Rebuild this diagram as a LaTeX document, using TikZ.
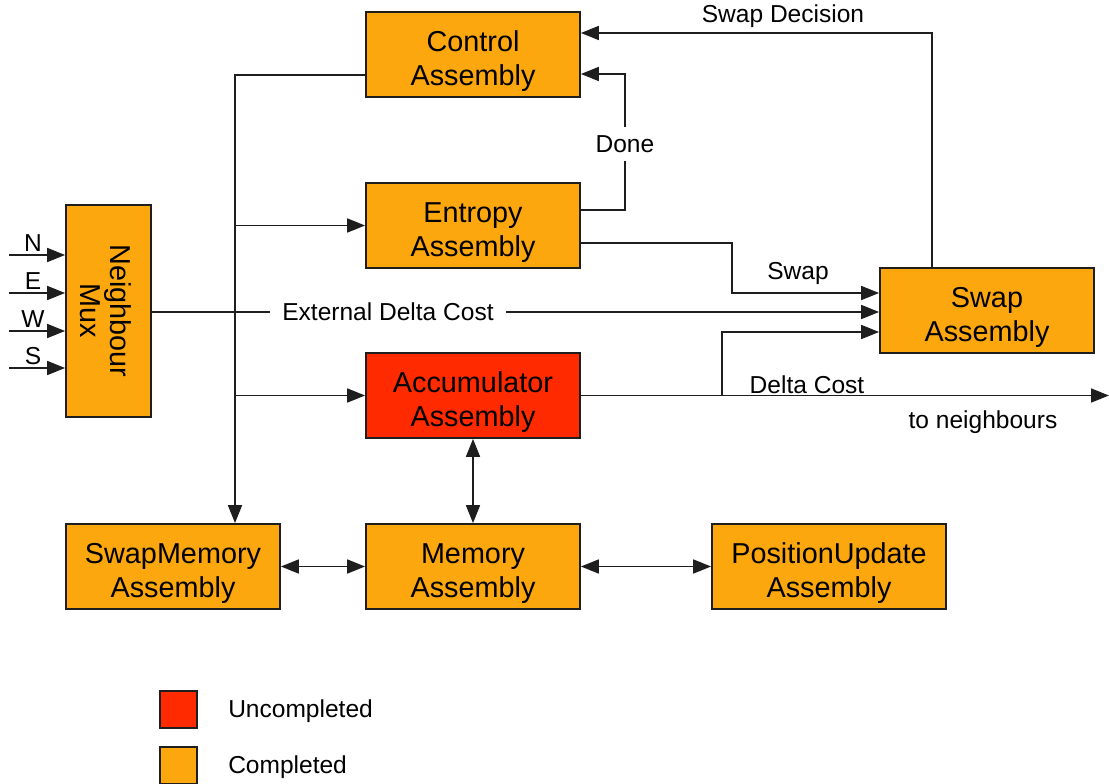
\documentclass[tikz,border=0pt]{standalone}
\usepackage{fontspec}
\setmainfont{Liberation Sans}
\usetikzlibrary{arrows.meta,calc}
\definecolor{donefill}{RGB}{253,167,15}
\definecolor{todofill}{RGB}{255,42,0}
\definecolor{edge}{RGB}{30,30,30}
% taller first line so the two text lines sit a little lower in the blocks
\newcommand{\hstrut}{\rule{0pt}{26pt}}
\tikzset{
  block/.style={draw=edge, line width=1.3pt, fill=donefill, minimum width=160.5pt,
    minimum height=63.75pt, align=center, inner sep=0pt,
    font=\fontsize{21.6}{25.5}\selectfont},
  todo/.style={block, fill=todofill},
  lbl/.style={font=\fontsize{18.4}{22}\selectfont, inner sep=0pt},
  wire/.style={draw=edge, line width=1.2pt},
  arr/.style={wire, -{Triangle[length=13.5pt,width=10.5pt]}},
  dbl/.style={wire, {Triangle[length=13.5pt,width=10.5pt]}-{Triangle[length=13.5pt,width=10.5pt]}},
  keybox/.style={draw=edge, line width=1.3pt, minimum size=27.75pt, inner sep=0pt}
}
\begin{document}
\begin{tikzpicture}[x=0.75pt, y=-0.75pt]
\useasboundingbox (0,0) rectangle (1109,784);

% functional blocks
\node[block] (ctrl) at (473,54.5) {\hstrut Control\\Assembly};
\node[block] (ent)  at (473,225.5) {\hstrut Entropy\\Assembly};
\node[todo]  (acc)  at (473,395.5) {\hstrut Accumulator\\Assembly};
\node[block] (swap) at (987,310.5) {\hstrut Swap\\Assembly};
\node[draw=edge, line width=1.3pt, fill=donefill, minimum width=63.75pt, minimum height=159pt] (mux) at (108.5,311) {};
\node[rotate=-90, align=center, font=\fontsize{21.6}{22.5}\selectfont] (muxtxt) at ($(mux.center)+(-3,0)$) {Neighbour\\Mux};
\node[block] (smem) at (173,566.5) {\hstrut SwapMemory\\Assembly};
\node[block] (mem)  at (473,566.5) {\hstrut Memory\\Assembly};
\node[block, minimum width=175.5pt] (pu) at (829,566.5) {\hstrut PositionUpdate\\Assembly};

% control bus from the control block
\coordinate (bus) at (235,0);
\draw[arr] ($(ctrl.west)+(0,20.5)$) -| (bus |- smem.north);
\draw[arr] (bus |- ent.west) -- (ent.west);
\draw[arr] (bus |- acc.west) -- (acc.west);

% done signal
\coordinate (dn) at ($(ent.east)+(44,-15.5)$);
\draw[arr] ($(ent.east)+(0,-15.5)$) -- (dn) |- node[pos=0.25, lbl, fill=white, inner ysep=6pt, yshift=-1.5pt] (ldone) {Done} ($(ctrl.east)+(0,19.5)$);

% swap decision
\draw[arr] ($(swap.north)+(-55,0)$) |- ($(ctrl.east)+(0,-21.5)$);
\node[lbl] (lsd) at (783,16.5) {Swap Decision};

% swap signal
\coordinate (sw) at ($(ent.east)+(151,17.5)$);
\draw[arr] ($(ent.east)+(0,17.5)$) -- (sw) |- ($(swap.west)+(0,-17.5)$);
\node[lbl] (lswap) at (798,273.5) {Swap};

% external delta cost
\node[lbl, inner xsep=9pt] (lext) at (388,312) {External Delta Cost};
\draw[wire] (mux.east |- lext.west) -- (lext.west);
\draw[arr] (lext.east) -- (lext.east -| swap.west);

% delta cost
\coordinate (out) at (1109,395.5);
\coordinate (dc) at (722,395.5);
\draw[arr] (acc.east) -- (out);
\draw[arr] (dc) |- ($(swap.west)+(0,21.5)$);
\node[lbl] (ldc) at (807,384.5) {Delta Cost};
\node[lbl] (lnb) at (983,422.5) {to neighbours};

% memory links
\draw[dbl] (acc.south) -- (mem.north);
\draw[dbl] (smem.east) -- (mem.west);
\draw[dbl] (mem.east) -- (pu.west);

% neighbour inputs
\foreach \n/\y in {N/255, E/293, W/331, S/368} {
  \coordinate (in\n) at (9,\y);
  \draw[arr] (in\n) -- (in\n -| mux.west);
  \node[lbl] (l\n) at (33,\y-12) {\n};
}

% legend
\node[keybox, fill=todofill] (k1) at (178.5,709.5) {};
\node[lbl, anchor=west] (k1t) at (228,711.5) {Uncompleted};
\node[keybox, fill=donefill] (k2) at (178.5,765.5) {};
\node[lbl, anchor=west] (k2t) at (228,767.5) {Completed};
\end{tikzpicture}
\end{document}
